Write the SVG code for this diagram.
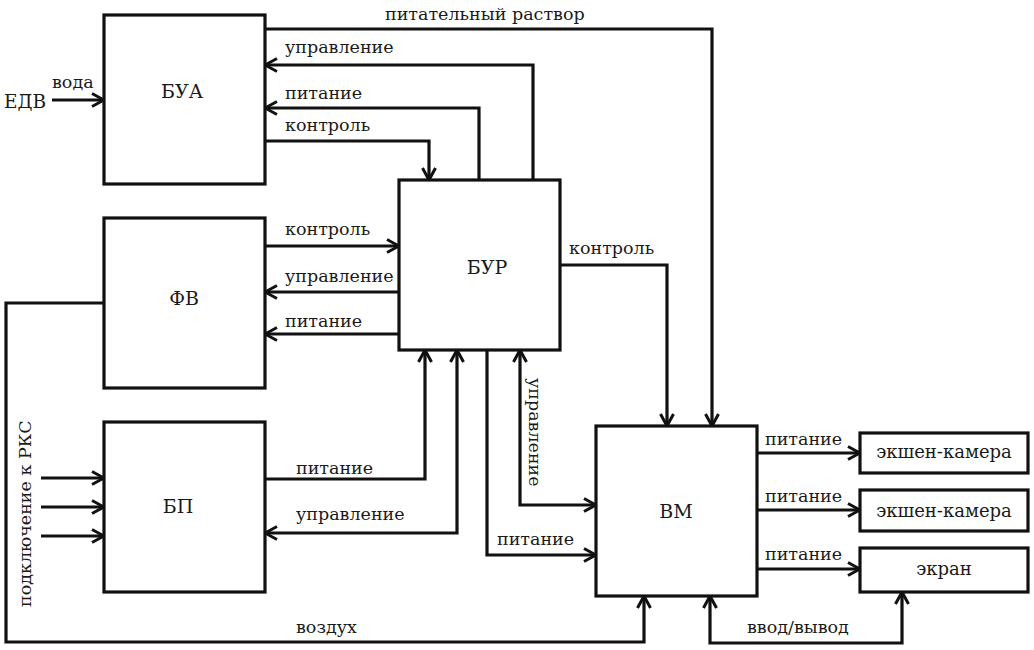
<svg xmlns="http://www.w3.org/2000/svg" width="1034" height="650" viewBox="0 0 1034 650">
<style>
.box{fill:#fff;stroke:#111;stroke-width:3.2}
.ln{fill:none;stroke:#111;stroke-width:3.2;stroke-linejoin:miter}
.ar{marker-end:url(#ah)}
.ar2{marker-end:url(#ah);marker-start:url(#ah)}
text{font-family:"DejaVu Serif","Liberation Serif",serif;font-size:17.5px;fill:#1a1a1a}
.nm{font-size:19px;text-anchor:middle}
.sm{font-size:18px;text-anchor:middle}
</style>
<defs>
<marker id="ah" markerUnits="userSpaceOnUse" viewBox="-15 -9 17 18" refX="0" refY="0" markerWidth="17" markerHeight="18" orient="auto-start-reverse">
<path d="M-12,-6.5 L0,0 L-12,6.5" fill="none" stroke="#111" stroke-width="3"/>
</marker>
</defs>
<rect width="1034" height="650" fill="#fff"/>
<g id="connectors">
<path class="ln ar" d="M52,100 H104"/>
<path class="ln ar" d="M265,29 H712 V426"/>
<path class="ln ar" d="M533,180 V65 H265"/>
<path class="ln ar" d="M479,180 V108 H265"/>
<path class="ln ar" d="M265,141 H429 V180"/>
<path class="ln ar" d="M265,246 H399"/>
<path class="ln ar" d="M399,292 H265"/>
<path class="ln ar" d="M399,334 H265"/>
<path class="ln ar" d="M104,303 H6 V642 H644 V596"/>
<path class="ln ar" d="M265,479 H425 V350"/>
<path class="ln ar2" d="M457,350 V533 H265"/>
<path class="ln ar" d="M560,265 H667 V426"/>
<path class="ln ar" d="M487,350 V555 H596"/>
<path class="ln ar2" d="M520,350 V505 H596"/>
<path class="ln ar" d="M41,478 H104"/>
<path class="ln ar" d="M41,507 H104"/>
<path class="ln ar" d="M41,536 H104"/>
<path class="ln ar" d="M757,453 H860"/>
<path class="ln ar" d="M757,510 H860"/>
<path class="ln ar" d="M757,569 H860"/>
<path class="ln ar2" d="M710,596 V643 H902 V592"/>
</g>
<g id="labels">
<text x="385" y="20">питательный раствор</text>
<text x="285" y="53">управление</text>
<text x="285" y="99">питание</text>
<text x="285" y="131">контроль</text>
<text x="4" y="108" style="font-size:18.5px">ЕДВ</text>
<text x="52" y="88">вода</text>
<text x="285" y="235">контроль</text>
<text x="285" y="282">управление</text>
<text x="285" y="327">питание</text>
<text x="569" y="254">контроль</text>
<text x="296" y="474">питание</text>
<text x="296" y="520">управление</text>
<text x="296" y="633">воздух</text>
<text x="497" y="545">питание</text>
<text transform="translate(529,378) rotate(90)">управление</text>
<text transform="translate(31,607) rotate(-90)">подключение к РКС</text>
<text x="765" y="445">питание</text>
<text x="765" y="502">питание</text>
<text x="765" y="560">питание</text>
<text x="747" y="633">ввод/вывод</text>
</g>
<g id="BUA"><rect class="box" x="104" y="15" width="161" height="169"/><text class="nm" x="182" y="98">БУА</text></g>
<g id="FV"><rect class="box" x="104" y="218" width="161" height="170"/><text class="nm" x="184" y="305">ФВ</text></g>
<g id="BP"><rect class="box" x="104" y="422" width="161" height="170"/><text class="nm" x="178" y="513">БП</text></g>
<g id="BUR"><rect class="box" x="399" y="180" width="161" height="170"/><text class="nm" x="487" y="274">БУР</text></g>
<g id="VM"><rect class="box" x="596" y="426" width="161" height="170"/><text class="nm" x="676" y="518">ВМ</text></g>
<g id="cam1"><rect class="box" x="860" y="433" width="168" height="40"/><text class="sm" x="944" y="458">экшен-камера</text></g>
<g id="cam2"><rect class="box" x="860" y="490" width="168" height="41"/><text class="sm" x="944" y="517">экшен-камера</text></g>
<g id="screen"><rect class="box" x="860" y="548" width="168" height="44"/><text class="sm" x="944" y="575">экран</text></g>
</svg>
